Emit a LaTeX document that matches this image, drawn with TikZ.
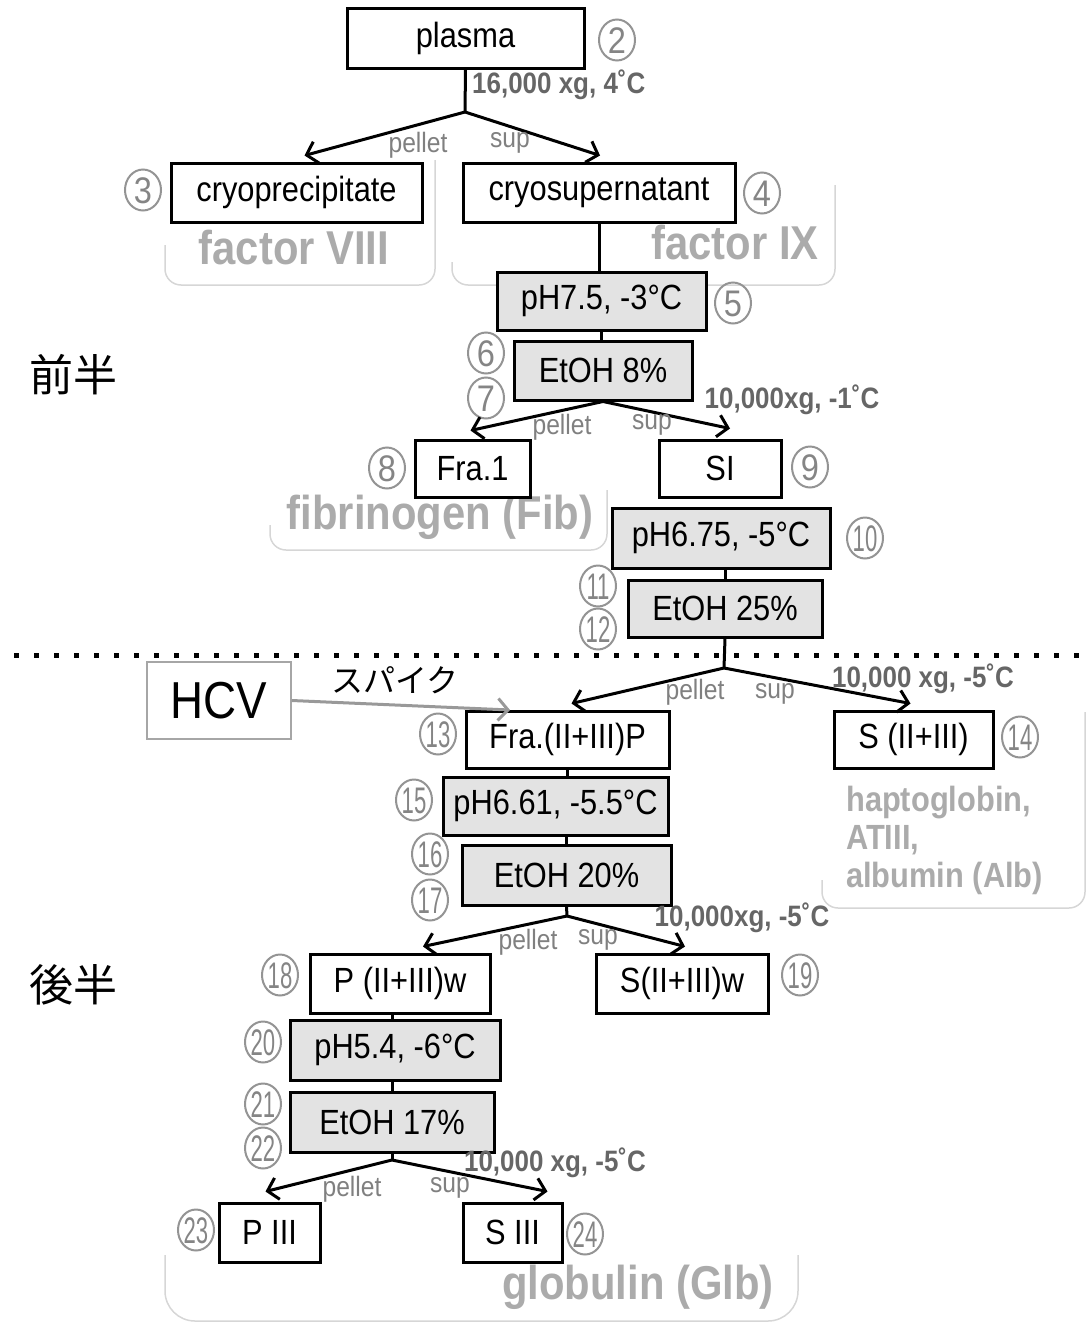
\documentclass[tikz,border=0pt]{standalone}
\usepackage{fontspec}
\setmainfont{Liberation Sans}[FakeStretch=0.88]
\newfontfamily\cjk{Noto Sans CJK JP}
\usetikzlibrary{arrows.meta,shapes.geometric}
\newcommand{\cnumtxt}[1]{\makebox[0pt]{\raisebox{-0.36em}[0pt][0pt]{#1}}}
\newcommand{\cnumtwo}[1]{\makebox[0pt]{\raisebox{-0.36em}[0pt][0pt]{\scalebox{0.68}[1]{#1}}}}
\begin{document}
\begin{tikzpicture}[x=1pt,y=-1pt,
  box/.style={draw, line width=3, minimum height=58, inner sep=0, fill=white, font=\fontsize{35}{38}\selectfont},
  gbox/.style={box, fill=black!11},
  conn/.style={line width=3},
  arr/.style={line width=3, -{Straight Barb[length=10pt,width=22pt]}},
  garr/.style={line width=3, draw=black!40, -{Straight Barb[length=10pt,width=22pt]}},
  cn/.style={ellipse, draw=black!42, line width=2, minimum width=36, minimum height=41, inner sep=0, text=black!48, font=\fontsize{37}{37}\selectfont},
  lab/.style={font=\bfseries\fontsize{29.5}{32}\selectfont, text=black!60, inner sep=0},
  ps/.style={font=\fontsize{28}{30}\selectfont, text=black!50, inner sep=0},
  big/.style={font=\bfseries\fontsize{47.5}{50}\selectfont, text=black!33, inner sep=0},
  mid/.style={font=\bfseries\fontsize{35}{38}\selectfont, text=black!33, inner sep=0, align=left},
  jp/.style={font=\cjk\fontsize{44}{44}\selectfont, inner sep=0},
  panel/.style={draw=black!16, line width=1.5, rounded corners=16},
  dots/.style={line width=5, dash pattern=on 5pt off 15pt}
]
\useasboundingbox (0,0) rectangle (1086,1325);

% panels
\draw[panel] (165,245) -- (165,285) -- (435,285) -- (435,160);
\draw[panel] (452,262) -- (452,285) -- (835,285) -- (835,185);
\draw[panel] (270,525) -- (270,550) -- (607,550) -- (607,490);
\draw[panel] (822,880) -- (822,908) -- (1085,908) -- (1085,712);
\draw[panel, rounded corners=30] (165,1255) -- (165,1321) -- (798,1321) -- (798,1255);

% big gray labels
\node[big] (fviii) at (294,248) {factor VIII};
\node[big] (fix) at (735,243) {factor IX};
\node[big] (fib) at (440,517) {fibrinogen (Fib)};
\node[mid, anchor=north west] (hap) at (846,786) {haptoglobin,\\ATIII,\\albumin (Alb)};
\node[big] (glb) at (638,1287) {globulin (Glb)};

% boxes
\node[box, minimum width=237, minimum height=60] (plasma) at (465.5,38) {plasma};
\node[box, minimum width=251, minimum height=59] (cryo) at (296.5,192.5) {cryoprecipitate};
\node[box, minimum width=272, minimum height=59] (cryosup) at (599,192.5) {cryosupernatant};
\node[gbox, minimum width=209] (ph75) at (601.5,301) {pH7.5, -3°C};
\node[gbox, minimum width=178, minimum height=59] (et8) at (603,370.5) {EtOH 8\%};
\node[box, minimum width=115, minimum height=57] (fra1) at (472.5,468.5) {Fra.1};
\node[box, minimum width=122, minimum height=57] (si) at (720,468.5) {SI};
\node[gbox, minimum width=218, minimum height=60] (ph675) at (721,538) {pH6.75, -5°C};
\node[gbox, minimum width=194, minimum height=57] (et25) at (725,608.5) {EtOH 25\%};
\node[draw=black!35, line width=1.5, minimum width=144, minimum height=77, inner sep=0, font=\fontsize{52}{54}\selectfont] (hcv) at (219,700.5) {HCV};
\node[box, minimum width=203, minimum height=57] (frap) at (567.5,739.5) {Fra.(II+III)P};
\node[box, minimum width=159, minimum height=57] (s23) at (913.5,739.5) {S (II+III)};
\node[gbox, minimum width=225] (ph661) at (555.5,806) {pH6.61, -5.5°C};
\node[gbox, minimum width=209, minimum height=60] (et20) at (566.5,875) {EtOH 20\%};
\node[box, minimum width=180, minimum height=59] (pw) at (400,983.5) {P (II+III)w};
\node[box, minimum width=172, minimum height=59] (sw) at (682,983.5) {S(II+III)w};
\node[gbox, minimum width=210, minimum height=60] (ph54) at (395,1050) {pH5.4, -6°C};
\node[gbox, minimum width=204, minimum height=60] (et17) at (392,1122) {EtOH 17\%};
\node[box, minimum width=101, minimum height=59] (p3) at (269.5,1232.5) {P III};
\node[box, minimum width=99, minimum height=59] (s3) at (512.5,1232.5) {S III};

% circled numbers
\node[cn] (c2) at (617,40) {\cnumtxt{2}};
\node[cn] (c3) at (143,190) {\cnumtxt{3}};
\node[cn] (c4) at (762,193) {\cnumtxt{4}};
\node[cn] (c5) at (733,303) {\cnumtxt{5}};
\node[cn] (c6) at (486,353) {\cnumtxt{6}};
\node[cn] (c7) at (486,398) {\cnumtxt{7}};
\node[cn] (c8) at (387,468) {\cnumtxt{8}};
\node[cn] (c9) at (810,467) {\cnumtxt{9}};
\node[cn] (c10) at (865,538) {\cnumtwo{10}};
\node[cn] (c11) at (598,586) {\cnumtwo{11}};
\node[cn] (c12) at (598,629) {\cnumtwo{12}};
\node[cn] (c13) at (438,734) {\cnumtwo{13}};
\node[cn] (c14) at (1020,737) {\cnumtwo{14}};
\node[cn] (c15) at (414,800) {\cnumtwo{15}};
\node[cn] (c16) at (430,854) {\cnumtwo{16}};
\node[cn] (c17) at (430,900) {\cnumtwo{17}};
\node[cn] (c18) at (280,975) {\cnumtwo{18}};
\node[cn] (c19) at (800,975) {\cnumtwo{19}};
\node[cn] (c20) at (263,1042) {\cnumtwo{20}};
\node[cn] (c21) at (263,1104) {\cnumtwo{21}};
\node[cn] (c22) at (263,1148) {\cnumtwo{22}};
\node[cn] (c23) at (196,1230) {\cnumtwo{23}};
\node[cn] (c24) at (585,1234) {\cnumtwo{24}};

% section labels
\node[jp] (zen) at (73,375) {前半};
\node[jp] (kou) at (73,985) {後半};

% dotted divider
\coordinate (dl) at (14,655);
\coordinate (dr) at (1082,655);
\draw[dots] (dl) -- (dr);

% branch 1
\coordinate (j1) at (465,112);
\draw[conn] (plasma.south) -- (j1);
\draw[arr] (j1) -- ([shift={(8,-6)}]cryo.north);
\draw[arr] (j1) -- ([shift={(1,-6)}]cryosup.north);
\node[lab, anchor=west] (l1) at (472,85) {16,000 xg, 4˚C};
\node[ps] (pe1) at (418,145) {pellet};
\node[ps] (su1) at (510,143) {sup};

% chain
\draw[conn] (cryosup.south) -- (cryosup.south |- ph75.north);
\draw[conn] (ph75.south) -- (ph75.south |- et8.north);

% branch 2
\draw[arr] (et8.south) -- ([shift={(-2,-8)}]fra1.north);
\draw[arr] (et8.south) -- ([shift={(10,-10)}]si.north);
\node[lab] (l2) at (792,400) {10,000xg, -1˚C};
\node[ps] (pe2) at (562,427) {pellet};
\node[ps] (su2) at (652,425) {sup};

\draw[conn] (et25.north |- ph675.south) -- (et25.north);

% branch 3
\coordinate (j3) at (724,668);
\draw[conn] (et25.south) -- (j3);
\draw[arr] (j3) -- ([shift={(4,-6)}]frap.north);
\draw[arr] (j3) -- ([shift={(-3,-6)}]s23.north);
\node[lab] (l3) at (923,679) {10,000 xg, -5˚C};
\node[ps] (pe3) at (695,692) {pellet};
\node[ps] (su3) at (775,694) {sup};

% HCV spike
\coordinate (spk) at (510,710);
\draw[garr] (hcv.east) -- (spk);
\node[font=\cjk\fontsize{32}{32}\selectfont, inner sep=0] (spl) at (395,680) {スパイク};

\draw[conn] (frap.south) -- (frap.south |- ph661.north);
\draw[conn] (et20.north |- ph661.south) -- (et20.north);

% branch 4
\coordinate (j4) at (567,916);
\draw[conn] (et20.south) -- (j4);
\draw[arr] (j4) -- ([shift={(23,-6)}]pw.north);
\draw[arr] (j4) -- ([shift={(3,-6)}]sw.north);
\node[lab] (l4) at (742,918) {10,000xg, -5˚C};
\node[ps] (pe4) at (528,942) {pellet};
\node[ps] (su4) at (598,940) {sup};

\draw[conn] (pw.south -| et17.south) -- (ph54.north -| et17.south);
\draw[conn] (ph54.south -| et17.south) -- (et17.north);

% branch 5
\coordinate (j5) at (392,1160);
\draw[conn] (et17.south) -- (j5);
\draw[arr] (j5) -- ([shift={(-4,-10)}]p3.north);
\draw[arr] (j5) -- ([shift={(35,-10)}]s3.north);
\node[lab] (l5) at (555,1163) {10,000 xg, -5˚C};
\node[ps] (pe5) at (352,1189) {pellet};
\node[ps] (su5) at (450,1188) {sup};
\end{tikzpicture}
\end{document}
